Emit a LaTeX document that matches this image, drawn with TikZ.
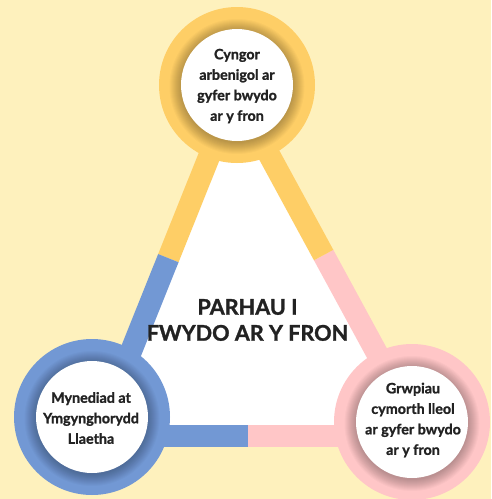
\documentclass[tikz,border=0pt]{standalone}
\usepackage{fontspec}
\setmainfont{Lato}[BoldFeatures={FakeBold=1.3}]
\usetikzlibrary{calc}
\definecolor{bg}{HTML}{FEF1BD}
\definecolor{ylw}{HTML}{FECE66}
\definecolor{blu}{HTML}{7298D4}
\definecolor{pnk}{HTML}{FFC6C7}
\definecolor{ink}{HTML}{222222}
\begin{document}
\begin{tikzpicture}[x=1pt,y=-1pt,
  band/.style={line width=22pt, line cap=butt},
  ringnode/.style={circle, inner sep=0pt, minimum size=156pt},
  holenode/.style={circle, fill=white, inner sep=0pt, minimum size=112pt},
  lbl/.style={font=\bfseries\fontsize{14.3}{20.5}\selectfont, text=ink, align=center},
  ttl/.style={font=\bfseries\fontsize{21.6}{26}\selectfont, text=ink, align=center},
  ]
\fill[bg] (0,0) rectangle (491,499);
\useasboundingbox (0,0) rectangle (491,499);
% triangle
\coordinate (A) at (235,92);
\coordinate (B) at (97,436);
\coordinate (C) at (422,436);
\coordinate (P) at ($(A)!0.483!(B)$);
\coordinate (Q) at ($(A)!0.474!(C)$);
\coordinate (R) at ($(B)!0.465!(C)$);
\fill[white] (A) -- (B) -- (C) -- cycle;
\draw[band, ylw] (A) -- (P);
\draw[band, blu] (P) -- (B);
\draw[band, blu] (B) -- (R);
\draw[band, pnk] (R) -- (C);
\draw[band, pnk] (C) -- (Q);
\draw[band, ylw] (Q) -- (A);
% circles
\node[ringnode, fill=ylw] (topring) at (237,85) {};
\node[ringnode, fill=blu] (leftring) at (92,417) {};
\node[ringnode, fill=pnk] (rightring) at (412,422) {};
\foreach \c in {topring,leftring,rightring}{
  \foreach \i in {1,...,12}{
    \fill[black, opacity=0.024] ($(\c.center)+(0,1.5)$) circle[radius={(55.5+\i*1.0)*1pt}];
  }
}
\node[holenode] (tophole) at (topring.center) {};
\node[holenode] (lefthole) at (leftring.center) {};
\node[holenode] (righthole) at (rightring.center) {};
% labels
\node[lbl] (toptext) at (237,86) {Cyngor\\arbenigol ar\\gyfer bwydo\\ar y fron};
\node[lbl] (lefttext) at (91,418) {Mynediad at\\Ymgynghorydd\\Llaetha};
\node[lbl] (righttext) at (413,420) {Grwpiau\\cymorth lleol\\ar gyfer bwydo\\ar y fron};
\node[ttl] (title) at (247.5,320) {PARHAU I\\FWYDO AR Y FRON};
\end{tikzpicture}
\end{document}
